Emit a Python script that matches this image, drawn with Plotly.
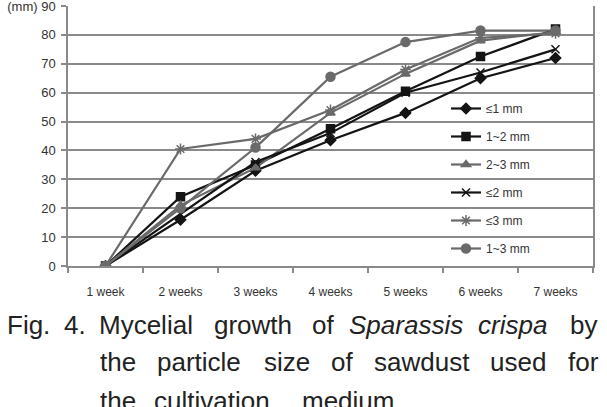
import plotly.graph_objects as go

weeks = ["1 week", "2 weeks", "3 weeks", "4 weeks", "5 weeks", "6 weeks", "7 weeks"]
le1 = [0, 16, 33, 43.5, 53, 65, 72]
r12 = [0, 24, 35, 47.5, 60.5, 72.5, 82]
r23 = [0, 21, 34, 53, 66.5, 78, 81]
le2 = [0, 18, 36, 46, 60, 67, 75]
le3 = [0, 40.5, 44, 54, 68, 79, 80.5]
r13 = [0, 20, 41, 65.5, 77.5, 81.5, 81.5]
series_names = ["≤1 mm", "1~2 mm", "2~3 mm", "≤2 mm", "≤3 mm", "1~3 mm"]
series_values = [le1, r12, r23, le2, le3, r13]
ytick_vals = [0, 10, 20, 30, 40, 50, 60, 70, 80, 90]
ytick_text = ["0", "10", "20", "30", "40", "50", "60", "70", "80", "(mm) 90"]

BLACK = "#141414"
GRAY = "#6a6a6a"
styles = [
    dict(color=BLACK, symbol="diamond", size=8),
    dict(color=BLACK, symbol="square", size=8),
    dict(color=GRAY, symbol="triangle-up", size=8),
    dict(color=BLACK, symbol="x-thin-open", size=8),
    dict(color=GRAY, symbol="asterisk-open", size=9),
    dict(color=GRAY, symbol="circle", size=9),
]

W, H = 607, 407
ML, MR, MT, MB = 68, 14, 6, 141
PW, PH = W - ML - MR, H - MT - MB

def px(x):
    return (x - ML) / PW

def py(y):
    return (H - MB - y) / PH

fig = go.Figure()
for name, vals, st in zip(series_names, series_values, styles):
    fig.add_trace(go.Scatter(
        x=weeks, y=vals, name=name, mode="lines+markers",
        legendgroup=name,
        line=dict(color=st["color"], width=2.2),
        marker=dict(symbol=st["symbol"], size=st["size"], color=st["color"],
                    line=dict(color=st["color"], width=1.5)),
    ))

narrow = "Liberation Sans Narrow, Arial Narrow, Liberation Sans, Arial"
fig.update_layout(
    width=W, height=H,
    margin=dict(l=ML, r=MR, t=MT, b=MB, autoexpand=False),
    paper_bgcolor="white", plot_bgcolor="white",
    showlegend=True,
    legend=dict(x=px(446), y=py(94), xanchor="left", yanchor="top",
                bgcolor="rgba(0,0,0,0)", traceorder="grouped", tracegroupgap=9,
                font=dict(family=narrow, size=12, color="#333"),
                itemwidth=30),
    xaxis=dict(type="category", range=[-0.5, 6.5], tickson="boundaries",
               ticks="outside", ticklen=5, tickcolor="#8a8a8a", tickwidth=1.5,
               showline=True, linecolor="#8a8a8a", linewidth=1.5,
               showgrid=False, ticklabelstandoff=14, automargin=False,
               tickfont=dict(family=narrow, size=12, color="#333")),
    yaxis=dict(range=[0, 90.001], tickvals=ytick_vals, ticktext=ytick_text,
               ticks="outside", ticklen=5, tickcolor="#8a8a8a", tickwidth=1.5,
               showline=True, linecolor="#8a8a8a", linewidth=1.5, mirror=True,
               showgrid=True, gridcolor="#8a8a8a", gridwidth=1.5,
               zeroline=False, ticklabelstandoff=3, ticklabeloverflow="allow",
               automargin=False,
               tickfont=dict(family=narrow, size=13, color="#333")),
)

cap_font = dict(family="Liberation Sans, Arial", size=26, color="#222")
caption_words = [
    (325, [("Fig.", 5), ("4.", 62), ("Mycelial", 97), ("growth", 212), ("of", 310),
           ("<i>Sparassis</i>", 347), ("<i>crispa</i>", 476), ("by", 568)]),
    (362, [("the", 98), ("particle", 155), ("size", 262), ("of", 329),
           ("sawdust", 372), ("used", 488), ("for", 566)]),
    (401, [("the", 98), ("cultivation", 152), ("medium.", 300)]),
]
for ypix, words in caption_words:
    for text, xpix in words:
        fig.add_annotation(text=text, xref="paper", yref="paper",
                           x=px(xpix), y=py(ypix), xanchor="left", yanchor="middle",
                           showarrow=False, font=cap_font)

fig.write_html("out.html")
